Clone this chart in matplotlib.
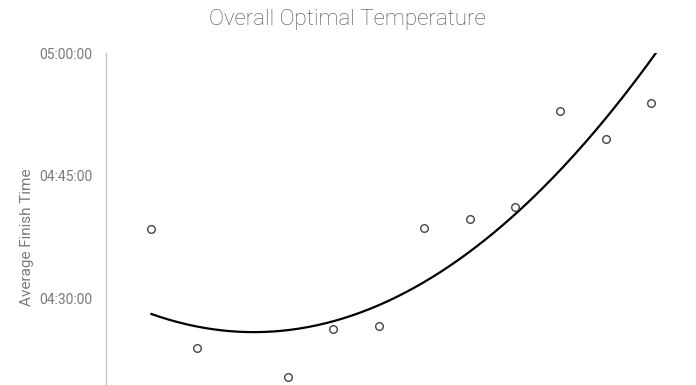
import numpy as np
import matplotlib

matplotlib.use("Agg")

import matplotlib.pyplot as plt
from matplotlib.ticker import FuncFormatter

# temperature bins (index positions) and average finish time in minutes after 04:00
# the point at index 3 lies below the visible range of the chart
temp_idx = [1, 2, 3, 4, 5, 6, 7, 8, 9, 10, 11, 12]
finish_min = [38.45, 23.9, 16.5, 20.35, 26.2, 26.55, 38.55, 39.65, 41.15, 52.9, 49.45, 53.9]
y_ticks = [30, 45, 60]

plt.rcParams['font.family'] = ['Roboto', 'DejaVu Sans']

fig = plt.figure(figsize=(6.96, 3.85), dpi=100)
ax = fig.add_axes([106/696, 0, (690-106)/696, (385-53)/385])

ax.scatter(temp_idx, finish_min, s=30, facecolor='white', edgecolor='#454545',
           linewidth=1.0, zorder=3)

# second order polynomial trendline
coef = np.polyfit(temp_idx, finish_min, 2)
xs = np.linspace(min(temp_idx), max(temp_idx) + 0.5, 300)
ax.plot(xs, np.polyval(coef, xs), color='black', lw=1.6, zorder=2)

ax.set_xlim(0, 12.85)
ax.set_ylim(60 - (385-53)/(245/30), 60)
ax.set_yticks(y_ticks)
ax.yaxis.set_major_formatter(FuncFormatter(lambda v, p: "04:%02d:00" % v if v < 60 else "05:00:00"))
ax.set_xticks([])
ax.tick_params(axis='y', length=0, pad=10, labelsize=10, labelcolor='#7a7a7a')

for s in ['top', 'right', 'bottom']:
    ax.spines[s].set_visible(False)
ax.spines['left'].set_color('#c8c8c8')
ax.spines['left'].set_linewidth(1.0)

fig.text(27/696, 1 - 237/385, "Average Finish Time", rotation=90, ha='center', va='center',
         fontsize=11, color='#7a7a7a')
fig.text(347/696, 1 - 20/385, "Overall Optimal Temperature", ha='center', va='center',
         fontsize=16, color='#4d4d4d', fontweight='light')

fig.savefig("out.png", dpi=100)
